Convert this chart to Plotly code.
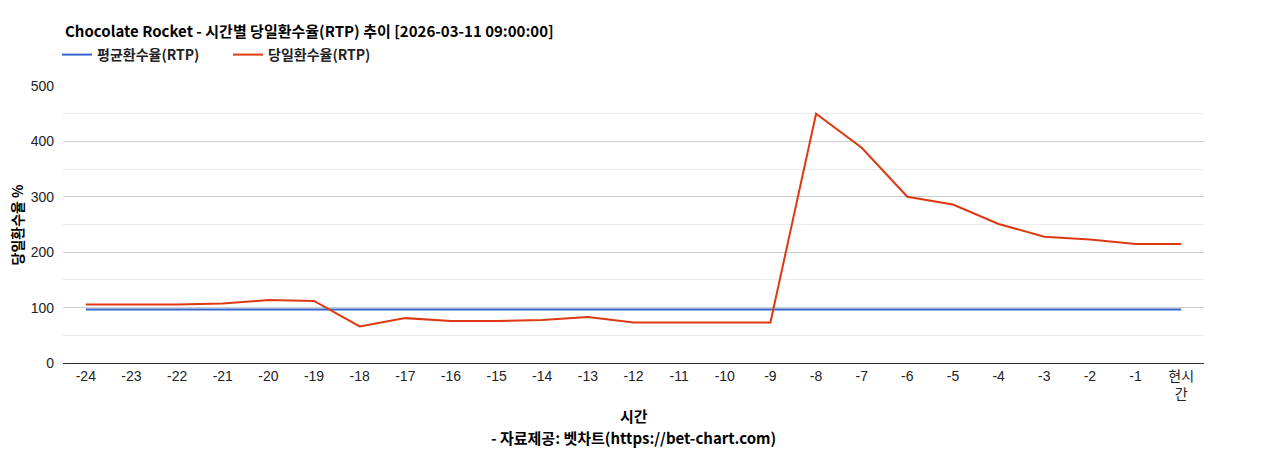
import plotly.graph_objects as go

categories = [str(i) for i in range(-24, 0)] + ["현시간"]
tick_labels = [str(i) for i in range(-24, 0)] + ["현시<br>간"]
avg_rtp = [96.5] * 25
daily_rtp = [105.5, 105.5, 105.5, 107.5, 113.5, 112, 66, 81, 76, 76, 77.5, 83, 73, 73, 73, 73,
             450, 388.5, 300, 286, 251, 228, 223, 215, 215]

TICKFONT = "Liberation Sans, Arial, Noto Sans CJK KR, sans-serif"
KFONT = "Noto Sans CJK KR, Noto Sans, sans-serif"

W, H = 1252, 442
L, T, PW, PH = 55, 78, 1141, 277

fig = go.Figure()
fig.add_trace(go.Scatter(x=categories, y=avg_rtp, mode="lines", name="<b>평균환수율(RTP)</b>",
                         line=dict(color="#3366cc", width=2)))
fig.add_trace(go.Scatter(x=categories, y=daily_rtp, mode="lines", name="<b>당일환수율(RTP)</b>",
                         line=dict(color="#dc3912", width=2)))

fig.update_layout(
    width=W, height=H,
    margin=dict(l=L, r=W - L - PW, t=T, b=H - T - PH, autoexpand=False),
    paper_bgcolor="white", plot_bgcolor="white",
    font=dict(family=TICKFONT, size=14, color="#222222"),
    showlegend=True,
    legend=dict(orientation="h", xref="container", yref="container",
                x=49 / W, xanchor="left", y=1 - 47 / H, yanchor="middle",
                itemwidth=30, entrywidth=126, entrywidthmode="pixels",
                font=dict(family=KFONT, size=14, color="#222222"),
                bgcolor="rgba(0,0,0,0)"),
    hovermode=False,
)

fig.update_xaxes(type="category", tickmode="array", tickvals=categories, ticktext=tick_labels,
                 showgrid=False, showline=True, linecolor="#333333", linewidth=1,
                 ticks="", tickfont=dict(size=14, color="#222222"),
                 range=[-0.5, 24.5])
fig.update_yaxes(range=[0, 500], tickvals=[0, 100, 200, 300, 400, 500],
                 showgrid=True, gridcolor="#cccccc", gridwidth=1, zeroline=False,
                 minor=dict(dtick=50, showgrid=True, gridcolor="#ebebeb", gridwidth=1, tick0=0),
                 tickfont=dict(size=14, color="#222222"), ticks="", ticklabelstandoff=8)

fig.add_annotation(text="<b>Chocolate Rocket - 시간별 당일환수율(RTP) 추이 [2026-03-11 09:00:00]</b>",
                   xref="paper", yref="paper", x=0, y=(T + PH - 22) / PH,
                   xanchor="left", yanchor="middle",
                   showarrow=False, font=dict(family=KFONT, size=15, color="#000000"))
fig.add_annotation(text="<b>당일환수율 %</b>", xref="paper", yref="paper",
                   x=(8 - L) / PW, y=0.5, textangle=-90, xanchor="center", yanchor="middle",
                   showarrow=False, font=dict(family=KFONT, size=14, color="#000000"))
fig.add_annotation(text="<b>시간</b>", xref="paper", yref="paper",
                   x=0.5, y=(T + PH - 407) / PH, xanchor="center", yanchor="middle",
                   showarrow=False, font=dict(family=KFONT, size=15, color="#000000"))
fig.add_annotation(text="<b>- 자료제공: 벳차트(https://bet-chart.com)</b>", xref="paper", yref="paper",
                   x=0.5, y=(T + PH - 429) / PH, xanchor="center", yanchor="middle",
                   showarrow=False, font=dict(family=KFONT, size=15, color="#000000"))

fig.write_html("out.html")
